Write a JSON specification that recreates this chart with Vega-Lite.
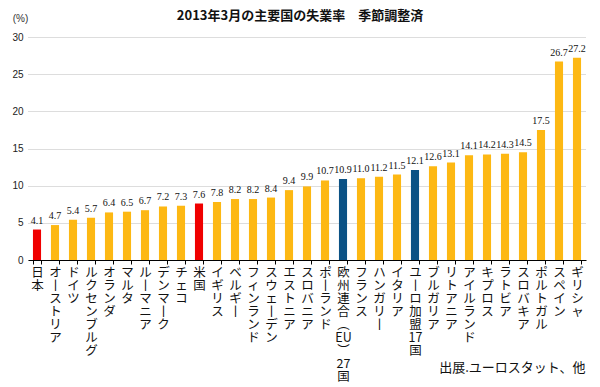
{
  "$schema": "https://vega.github.io/schema/vega-lite/v6.json",
  "width": 558,
  "height": 223,
  "autosize": {"type": "none"},
  "padding": {"left": 28, "top": 37, "right": 14, "bottom": 127},
  "background": "white",
  "config": {"view": {"stroke": null}},
  "title": {
    "text": "2013年3月の主要国の失業率　季節調整済",
    "font": "Noto Sans CJK JP",
    "fontSize": 13,
    "fontWeight": "bold",
    "color": "#111",
    "anchor": "middle",
    "dx": -7,
    "offset": -10
  },
  "data": {
    "values": [
      {"country": "日本", "rate": 4.1, "group": "日本・米国"},
      {"country": "オーストリア", "rate": 4.7, "group": "その他"},
      {"country": "ドイツ", "rate": 5.4, "group": "その他"},
      {"country": "ルクセンブルグ", "rate": 5.7, "group": "その他"},
      {"country": "オランダ", "rate": 6.4, "group": "その他"},
      {"country": "マルタ", "rate": 6.5, "group": "その他"},
      {"country": "ルーマニア", "rate": 6.7, "group": "その他"},
      {"country": "デンマーク", "rate": 7.2, "group": "その他"},
      {"country": "チェコ", "rate": 7.3, "group": "その他"},
      {"country": "米国", "rate": 7.6, "group": "日本・米国"},
      {"country": "イギリス", "rate": 7.8, "group": "その他"},
      {"country": "ベルギー", "rate": 8.2, "group": "その他"},
      {"country": "フィンランド", "rate": 8.2, "group": "その他"},
      {"country": "スウェーデン", "rate": 8.4, "group": "その他"},
      {"country": "エストニア", "rate": 9.4, "group": "その他"},
      {"country": "スロバニア", "rate": 9.9, "group": "その他"},
      {"country": "ポーランド", "rate": 10.7, "group": "その他"},
      {"country": "欧州連合（EU）27国", "rate": 10.9, "group": "EU"},
      {"country": "フランス", "rate": 11.0, "group": "その他"},
      {"country": "ハンガリー", "rate": 11.2, "group": "その他"},
      {"country": "イタリア", "rate": 11.5, "group": "その他"},
      {"country": "ユーロ加盟17国", "rate": 12.1, "group": "EU"},
      {"country": "ブルガリア", "rate": 12.6, "group": "その他"},
      {"country": "リトアニア", "rate": 13.1, "group": "その他"},
      {"country": "アイルランド", "rate": 14.1, "group": "その他"},
      {"country": "キプロス", "rate": 14.2, "group": "その他"},
      {"country": "ラトビア", "rate": 14.3, "group": "その他"},
      {"country": "スロバキア", "rate": 14.5, "group": "その他"},
      {"country": "ポルトガル", "rate": 17.5, "group": "その他"},
      {"country": "スペイン", "rate": 26.7, "group": "その他"},
      {"country": "ギリシャ", "rate": 27.2, "group": "その他"}
    ]
  },
  "encoding": {
    "x": {
      "field": "country",
      "type": "nominal",
      "sort": null,
      "scale": {"paddingInner": 0.55, "paddingOuter": 0.275},
      "axis": {
        "title": "出展.ユーロスタット、他",
        "titleFont": "Noto Sans CJK JP",
        "titleFontSize": 13,
        "titleFontWeight": "normal",
        "titleColor": "#111",
        "titleX": 557,
        "titleY": 111,
        "titleAlign": "right",
        "titleBaseline": "alphabetic",
        "labelAngle": 0,
        "labelExpr": "split(replace(replace(replace(datum.label, 'ー', '丨'), '（', '︵'), '）', '︶'), regexp('(?<![0-9A-Z])|(?![0-9A-Z])'))",
        "labelFont": "Noto Sans CJK JP",
        "labelFontSize": 12.5,
        "labelLineHeight": 13,
        "labelColor": "#111",
        "labelBaseline": "top",
        "labelAlign": "center",
        "labelPadding": 2,
        "labelOverlap": false,
        "labelLimit": 0,
        "labelBound": false,
        "domainColor": "#000",
        "tickColor": "#000",
        "tickSize": 4,
        "tickBand": "extent"
      }
    },
    "y": {
      "field": "rate",
      "type": "quantitative",
      "scale": {"domain": [0, 30]},
      "axis": {
        "title": "(%)",
        "titleAngle": 0,
        "titleX": -8,
        "titleY": -19,
        "titleAlign": "center",
        "titleBaseline": "middle",
        "titleFont": "Liberation Sans",
        "titleFontSize": 10,
        "titleFontWeight": "normal",
        "titleColor": "#333",
        "values": [0, 5, 10, 15, 20, 25, 30],
        "domain": false,
        "ticks": false,
        "labelPadding": 5,
        "labelFont": "Liberation Sans",
        "labelFontSize": 10,
        "labelColor": "#222",
        "gridColor": "#bbb",
        "gridDash": [1, 1]
      }
    }
  },
  "layer": [
    {
      "mark": {"type": "bar"},
      "encoding": {
        "color": {
          "field": "group",
          "type": "nominal",
          "scale": {"domain": ["その他", "日本・米国", "EU"], "range": ["#FDB813", "#F00000", "#0B5285"]},
          "legend": null
        }
      }
    },
    {
      "mark": {"type": "text", "baseline": "bottom", "dy": -4, "font": "Liberation Sans Narrow", "fontSize": 10, "color": "#111"},
      "encoding": {
        "text": {"field": "rate", "type": "quantitative", "format": ".1f"}
      }
    }
  ]
}
